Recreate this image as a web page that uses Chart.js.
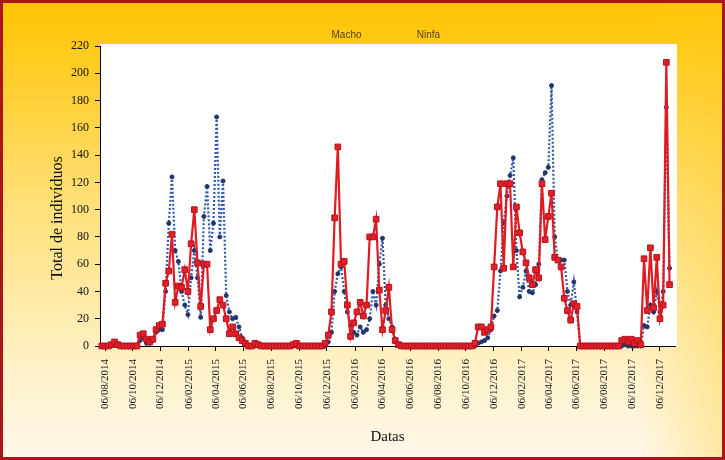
<!DOCTYPE html>
<html>
<head>
<meta charset="utf-8">
<script src="https://cdn.jsdelivr.net/npm/chart.js@4.4.0/dist/chart.umd.min.js"></script>
<style>
  html, body { margin: 0; padding: 0; background: #fff; }
</style>
</head>
<body>
<canvas id="grafico" width="725" height="460"></canvas>
<script>
// rotulos do eixo x (dd/mm/aaaa)
const rotulos = [
  '06/08/2014', '06/10/2014', '06/12/2014', '06/02/2015', '06/04/2015', '06/06/2015',
  '06/08/2015', '06/10/2015', '06/12/2015', '06/02/2016', '06/04/2016', '06/06/2016',
  '06/08/2016', '06/10/2016', '06/12/2016', '06/02/2017', '06/04/2017', '06/06/2017',
  '06/08/2017', '06/10/2017', '06/12/2017'
]
// coletas semanais a partir desta data
const primeiraColeta = '30/07/2014'
const intervaloDias = 7

const macho = [
  0, 0, 0, 0, 1, 0, 0, 0, 0, 0, 0, 0,
  4, 6, 2, 2, 4, 10, 12,
  12, 40, 90, 124, 70, 62, 40, 30, 23, 50, 70, 50, 21, 95, 117, 70, 90, 168, 80, 121, 37, 25, 20, 21, 14, 6, 2,
  0, 0, 0, 0, 0, 0, 0, 0, 0, 0, 0, 0, 0, 0, 0, 0, 0, 0, 0, 0, 0, 0, 0, 0,
  0, 3, 10, 40, 53, 58, 40, 25, 15, 10, 8, 14, 10, 12, 20, 40, 30, 60, 79, 30, 20, 14, 5, 1,
  0, 0, 0, 0, 0, 0, 0, 0, 0, 0, 0, 0, 0, 0, 0, 0, 0, 0, 0, 0, 0, 0, 0,
  0,
  2, 3, 4, 6, 12, 22, 26, 55, 90, 110, 125, 138, 70, 36, 43, 55, 40, 39, 45, 60, 122, 127, 131, 191, 80, 63, 63, 63, 40, 30, 47, 25,
  0, 0, 0, 0, 0, 0, 0, 0, 0, 0, 0, 0, 0,
  0, 1, 0, 0, 0, 0, 0,
  15, 14, 30, 25, 40, 25, 40, 175, 57
]
const ninfa = [
  0, 0, 0, 1, 3, 1, 0, 0, 0, 0, 0, 0,
  8, 9, 5, 3, 5, 12, 15,
  16, 46, 55, 82, 32, 44, 43, 56, 40, 75, 100, 61, 29, 60, 60, 12, 20, 26, 34, 30, 20, 9, 14, 9, 6, 4, 2,
  0, 0, 2, 1, 0, 0, 0, 0, 0, 0, 0, 0, 0, 0, 1, 2, 0, 0, 0, 0, 0, 0, 0, 0,
  2, 8, 25, 94, 146, 60, 62, 30, 7, 17, 25, 32, 22, 30, 80, 80, 93, 41, 12, 26, 43, 12, 4, 1,
  0, 0, 0, 0, 0, 0, 0, 0, 0, 0, 0, 0, 0, 0, 0, 0, 0, 0, 0, 0, 0, 0, 0,
  2,
  14, 14, 10, 12, 14, 58, 102, 119, 57, 119, 119, 58, 102, 83, 69, 61, 50, 45, 56, 50, 119, 78, 95, 112, 65, 63, 58, 35, 26, 19, 31, 29,
  0, 0, 0, 0, 0, 0, 0, 0, 0, 0, 0, 0, 0,
  4, 5, 3, 5, 2, 4, 1,
  64, 26, 72, 28, 65, 20, 30, 208, 45
]

// dias contados a partir do primeiro rotulo
const dia = s => {
  const [d, m, a] = s.split('/').map(Number)
  return (Date.UTC(a, m - 1, d) - Date.UTC(2014, 7, 6)) / 86400000
}
const x0 = dia(primeiraColeta)
const pontos = serie => serie.map((v, i) => ({x: x0 + intervaloDias * i, y: v}))

const serif = "'Liberation Serif', 'DejaVu Serif', serif"

const fundo = {
  id: 'fundo',
  beforeDraw(chart) {
    const {ctx, width, height, chartArea} = chart
    ctx.save()
    const g = ctx.createLinearGradient(0, 0, 0, height)
    g.addColorStop(0, '#ffc300')
    g.addColorStop(0.12, '#ffcb1e')
    g.addColorStop(0.45, '#ffe07a')
    g.addColorStop(0.8, '#fff1c8')
    g.addColorStop(1, '#fff8ea')
    ctx.fillStyle = g
    ctx.fillRect(0, 0, width, height)
    const h = ctx.createLinearGradient(640, 0, width, 0)
    h.addColorStop(0, 'rgba(255,205,40,0)')
    h.addColorStop(1, 'rgba(255,200,30,0.35)')
    ctx.fillStyle = h
    ctx.fillRect(640, 0, width - 640, height)
    ctx.fillStyle = '#ffffff'
    ctx.fillRect(chartArea.left, 44, chartArea.right + 2 - chartArea.left, chartArea.bottom - 44)
    ctx.strokeStyle = '#a8161c'
    ctx.lineWidth = 3
    ctx.strokeRect(1.5, 1.5, width - 3, height - 3)
    ctx.restore()
  },
  afterDraw(chart) {
    const {ctx, chartArea} = chart
    const meio = (chartArea.left + chartArea.right) / 2
    ctx.save()
    ctx.fillStyle = '#5a4200'
    ctx.font = "10px 'Liberation Sans', Arial, sans-serif"
    ctx.textAlign = 'center'
    ctx.textBaseline = 'middle'
    chart.data.datasets.forEach((ds, i) => {
      ctx.fillText(ds.label, meio - 41 + 82 * i, 35)
    })
    ctx.fillStyle = '#111'
    ctx.font = '16px ' + serif
    ctx.translate(58, 218)
    ctx.rotate(-Math.PI / 2)
    ctx.fillText('Total de indivíduos', 0, 0)
    ctx.restore()
  }
}

new Chart(document.getElementById('grafico'), {
  type: 'line',
  data: {
    datasets: [{
      label: 'Macho',
      data: pontos(macho),
      order: 2,
      borderColor: '#2f57ab',
      borderWidth: 2.2,
      borderDash: [2, 2],
      pointStyle: 'circle',
      pointRadius: 2,
      pointBackgroundColor: '#23346e',
      pointBorderColor: '#23346e',
      pointBorderWidth: 1,
      clip: false
    }, {
      label: 'Ninfa',
      data: pontos(ninfa),
      order: 1,
      borderColor: '#e01b22',
      borderWidth: 2.2,
      pointStyle: 'rect',
      pointRadius: 4,
      pointBackgroundColor: '#e3202a',
      pointBorderColor: '#b3121a',
      pointBorderWidth: 1,
      clip: false
    }]
  },
  options: {
    responsive: false,
    animation: false,
    layout: {padding: {top: 46, right: 50, left: 0, bottom: 0}},
    plugins: {legend: {display: false}, tooltip: {enabled: false}},
    scales: {
      x: {
        type: 'linear',
        min: -11,
        max: 1251,
        afterBuildTicks: s => { s.ticks = rotulos.map(r => ({value: dia(r)})) },
        afterFit: s => { s.height = 114 },
        grid: {drawOnChartArea: false, drawTicks: true, tickLength: 5, color: '#000'},
        border: {color: '#000', width: 1},
        ticks: {
          autoSkip: false, maxRotation: 90, minRotation: 90, padding: 8,
          color: '#111', font: {family: serif, size: 11},
          callback: (v, i) => rotulos[i]
        },
        title: {display: true, text: 'Datas', color: '#111', font: {family: serif, size: 15}, padding: {top: 4, bottom: 14}}
      },
      y: {
        min: 0,
        max: 220,
        afterFit: s => { s.width = 100 },
        grid: {drawOnChartArea: false, drawTicks: true, tickLength: 5, color: '#000'},
        border: {color: '#000', width: 1},
        ticks: {stepSize: 20, padding: 6, color: '#111', font: {family: serif, size: 12}}
      }
    }
  },
  plugins: [fundo]
})
</script>
</body>
</html>
